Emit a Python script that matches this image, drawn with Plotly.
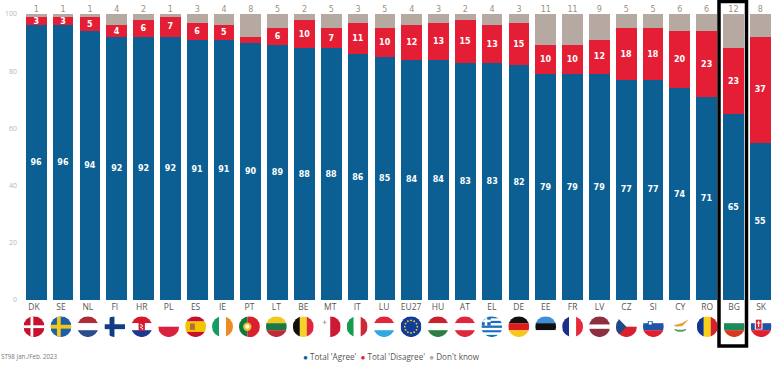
import base64, math
import plotly.graph_objects as go

countries = ["DK","SE","NL","FI","HR","PL","ES","IE","PT","LT","BE","MT","IT","LU","EU27","HU","AT","EL","DE","EE","FR","LV","CZ","SI","CY","RO","BG","SK"]
agree = [96,96,94,92,92,92,91,91,90,89,88,88,86,85,84,84,83,83,82,79,79,79,77,77,74,71,65,55]
disagree = [3,3,5,4,6,7,6,5,2,6,10,7,11,10,12,13,15,13,15,10,10,12,18,18,20,23,23,37]
dont_know = [1,1,1,4,2,1,3,4,8,5,2,5,3,5,4,3,2,4,3,11,11,9,5,5,6,6,12,8]
y_ticks = [0,20,40,60,80,100]
legend_names = ["Total 'Agree'", "Total 'Disagree'", "Don't know"]

BLUE, RED, GREY = "#0B5F93", "#E41F35", "#B6A9A1"
TXT = "DejaVu Sans"
SANS = "Open Sans"
W, H = 780, 367

def hb(*cs, w=None):
    w = w or [1]*len(cs)
    t, y, o = sum(w), 0, ""
    for c, k in zip(cs, w):
        h = 60*k/t
        o += f'<rect x="0" y="{y}" width="60" height="{h+.3}" fill="{c}"/>'
        y += h
    return o

def vb(*cs):
    o = ""
    for i, c in enumerate(cs):
        o += f'<rect x="{i*60/len(cs)}" y="0" width="{60/len(cs)+.3}" height="60" fill="{c}"/>'
    return o

def rc(x, y, w, h, c):
    return f'<rect x="{x}" y="{y}" width="{w}" height="{h}" fill="{c}"/>'

def cross(bg, fg, cx=22, t=12):
    return rc(0,0,60,60,bg)+rc(cx-t/2,0,t,60,fg)+rc(0,30-t/2,60,t,fg)

def eu():
    o = rc(0,0,60,60,"#123C9A")
    for k in range(12):
        a = k*math.pi/6
        o += f'<circle cx="{30+18*math.cos(a):.1f}" cy="{30+18*math.sin(a):.1f}" r="2.6" fill="#F2D21B"/>'
    return o

def greek():
    o = hb(*["#1C6FC0","#FFFFFF"]*4+["#1C6FC0"])
    o += rc(0,0,27,27,"#1C6FC0")+rc(10,0,7,27,"#FFFFFF")+rc(0,10,27,7,"#FFFFFF")
    return o

flags = {
 "DK": cross("#C8102E","#FFFFFF",24,8),
 "SE": cross("#1A5FA8","#F2C81E",24,11),
 "NL": hb("#AE2B3C","#FFFFFF","#2B4C8C"),
 "FI": cross("#FFFFFF","#123C84",22,14),
 "HR": hb("#D8182F","#FFFFFF","#1A3A8F")+rc(21,16,18,26,"#D8182F")+rc(26,22,4,4,"#FFFFFF")+rc(30,26,4,4,"#FFFFFF")+rc(26,30,4,4,"#FFFFFF")+rc(30,34,4,4,"#FFFFFF"),
 "PL": hb("#FFFFFF","#D9213F"),
 "ES": hb("#C8102E","#F5C400","#C8102E",w=[1,2,1])+rc(14,21,14,18,"#B8683A"),
 "IE": vb("#169B62","#FFFFFF","#F08A24"),
 "PT": rc(0,0,24,60,"#0B7A3B")+rc(24,0,36,60,"#D8202F")+'<circle cx="24" cy="30" r="12" fill="#E8C22A"/><circle cx="24" cy="30" r="6" fill="#FFFFFF"/>',
 "LT": hb("#F2C81E","#1B7A43","#BE2A36"),
 "BE": vb("#111111","#F6D32A","#E0263B"),
 "MT": vb("#FFFFFF","#CC1A35")+rc(9,16,10,3,"#C2A0A0")+rc(12.5,12,3,11,"#C2A0A0"),
 "IT": vb("#169B50","#FFFFFF","#CC2A36"),
 "LU": hb("#E0263B","#FFFFFF","#35A7E0"),
 "EU27": eu(),
 "HU": hb("#C8202F","#FFFFFF","#2E7D45"),
 "AT": hb("#E0263B","#FFFFFF","#E0263B"),
 "EL": greek(),
 "DE": hb("#111111","#DD1C1C","#F6C81E"),
 "EE": hb("#3E8EDC","#111111","#FFFFFF"),
 "FR": vb("#1B2F8F","#FFFFFF","#E8293B"),
 "LV": hb("#8C2F3F","#FFFFFF","#8C2F3F",w=[2,1,2]),
 "CZ": hb("#FFFFFF","#D9202F")+'<polygon points="0,0 30,30 0,60" fill="#1C4A8C"/>',
 "SI": hb("#FFFFFF","#1F55A8","#E0202F")+rc(14,14,14,16,"#1F55A8")+rc(17,16,8,8,"#FFFFFF"),
 "CY": rc(0,0,60,60,"#FFFFFF")+'<polygon points="10,26 26,22 38,18 54,8 44,20 36,28 20,30" fill="#E8A23A"/><path d="M14 38 Q30 48 46 38 Q30 43 14 38" stroke="#4E9A50" stroke-width="3" fill="none"/>',
 "RO": vb("#12368F","#F7D117","#D6202F"),
 "BG": hb("#FFFFFF","#1D8A5A","#D8381F"),
 "SK": hb("#FFFFFF","#1F55A8","#E0202F")+rc(12,8,22,30,"#FFFFFF")+rc(15,10,16,26,"#D9202F")+rc(21.5,13,3,18,"#FFFFFF")+rc(18,18,10,3,"#FFFFFF"),
}

def flag_uri(key):
    svg = ('<svg xmlns="http://www.w3.org/2000/svg" width="60" height="60" viewBox="0 0 60 60">'
           '<defs><clipPath id="c"><circle cx="30" cy="30" r="30"/></clipPath></defs>'
           f'<g clip-path="url(#c)">{flags[key]}</g></svg>')
    return "data:image/svg+xml;base64," + base64.b64encode(svg.encode()).decode()

L, R, T, B = 18, 5, 14, 67
plot_h = H - T - B
plot_w = W - L - R

fig = go.Figure()
def bar(vals, color, name, labels):
    fig.add_trace(go.Bar(x=countries, y=vals, marker=dict(color=color, line_width=0), name=name,
                         showlegend=False, text=labels, textposition="inside", insidetextanchor="middle",
                         textangle=0, constraintext="none",
                         textfont=dict(family=TXT, size=8, color="white", weight="bold"),
                         hoverinfo="skip"))
bar(agree, BLUE, legend_names[0], [str(v) for v in agree])
bar(disagree, RED, legend_names[1], [str(v) if v >= 3 else "" for v in disagree])
bar(dont_know, GREY, legend_names[2], [""]*len(countries))

fig.add_trace(go.Scatter(x=countries, y=[100]*len(countries), mode="text", text=[str(v) for v in dont_know],
                         textposition="top center", textfont=dict(family=TXT, size=8, color="#9A9088"),
                         cliponaxis=False, showlegend=False, hoverinfo="skip"))
# carries the tick labels and flags, which sit slightly left of the bars on the left side
fig.add_trace(go.Scatter(x=countries, y=[0]*len(countries), mode="markers", marker=dict(opacity=0),
                         xaxis="x2", showlegend=False, hoverinfo="skip"))

pitch2 = 26.93
images = []
for c in countries:
    images.append(dict(source=flag_uri(c), xref="x2", yref="paper", x=c, y=(300-326.7)/plot_h,
                       sizex=21/pitch2, sizey=21/plot_h, xanchor="center", yanchor="middle",
                       sizing="contain", layer="above"))

legend_text = "  ".join(f"<span style='color:{c}'>●</span> {n}" for c, n in zip((BLUE, RED, GREY), legend_names))

fig.update_layout(
    width=W, height=H, margin=dict(l=L, r=R, t=T, b=B, autoexpand=False),
    paper_bgcolor="white", plot_bgcolor="white", barmode="stack", bargap=0.23, showlegend=False,
    font=dict(family=TXT, size=8.5, color="#555555"),
    xaxis=dict(type="category", categoryorder="array", categoryarray=countries, range=[-0.683, 27.55],
               showticklabels=False, showgrid=False, zeroline=False, ticks=""),
    xaxis2=dict(type="category", categoryorder="array", categoryarray=countries, range=[-0.594, 27.516],
                overlaying="x", anchor="y", side="bottom", showgrid=False, zeroline=False, ticks="",
                tickangle=0, tickfont=dict(family=SANS, size=8.5, color="#555555")),
    yaxis=dict(range=[0, 100], tickvals=y_ticks, showgrid=False, zeroline=False, ticks="", ticklen=0,
               tickfont=dict(family=SANS, size=7, color="#BDB6B0")),
    images=images,
    annotations=[
        dict(text="ST98 Jan./Feb. 2023", xref="paper", yref="paper", x=(-1-L)/plot_w,
             y=(300-356)/plot_h, xanchor="left", yanchor="middle", showarrow=False,
             font=dict(family=SANS, size=6.2, color="#777777")),
        dict(text=legend_text, xref="paper", yref="paper", x=(391-L)/plot_w,
             y=(300-356)/plot_h, xanchor="center", yanchor="middle", showarrow=False,
             font=dict(family=SANS, size=8.1, color="#555555")),
    ],
    shapes=[dict(type="rect", xref="paper", yref="paper", x0=(719-L)/plot_w, x1=(746.5-L)/plot_w,
                 y0=(300-346)/plot_h, y1=(300-1.5)/plot_h, line=dict(color="black", width=3.5),
                 fillcolor="rgba(0,0,0,0)", layer="above")],
)
fig.write_html("out.html", config={"displayModeBar": False},
               post_script="document.body.style.margin='0';document.body.style.overflow='hidden';")
